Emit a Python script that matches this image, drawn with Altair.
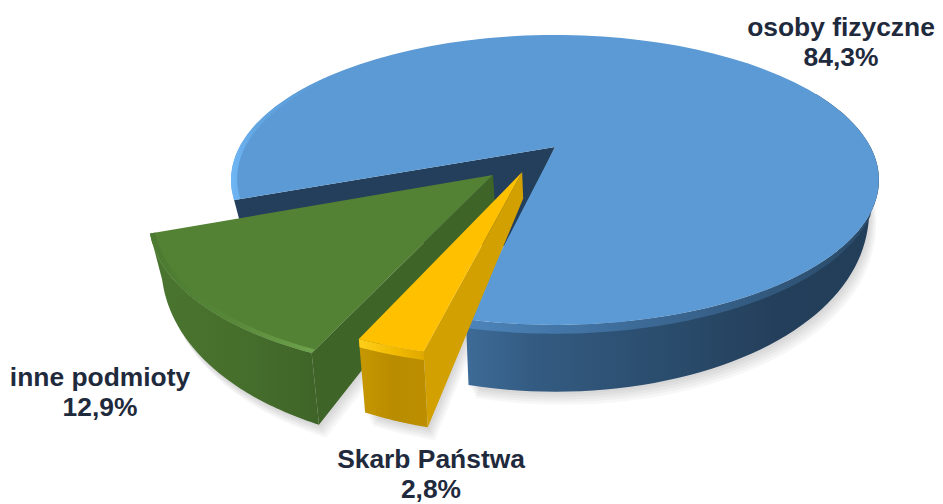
import math
import altair as alt
import pandas as pd

# ---- chart values ----
categories = ["osoby fizyczne", "inne podmioty", "Skarb Państwa"]
shares = [84.3, 12.9, 2.8]
blue_end_angle = 102.7
label_x = [841, 100, 431]
label_y = [28, 378, 460]
value_y = [58, 408, 490]

# ---- view model of the tilted pie ----
CX, CY, A, B, K = 555, 147, 315.5, 137.5, 0.2276
SHRINK = 0.97
XD, YD = [8, 935], [504, 8]


def pt(c, s, z=0):
    d = 1 - K * s
    x = CX + A * c / d
    y = CY + B * s / d
    if z:
        dy = max(y - CY, 0)
        x = CX + (x - CX) * (1 - (1 - SHRINK) * z)
        y = y + z * 5 * math.sqrt(dy)
    return x, y


def arc(t0, t1, r=1.0, off=(0, 0), z=0, n=70):
    out = []
    for i in range(n + 1):
        t = math.radians(t0 + (t1 - t0) * i / n)
        out.append(pt(off[0] + r * math.cos(t), off[1] + r * math.sin(t), z))
    return out


def face(points, fill, opacity=1.0):
    df = pd.DataFrame({"x": [p[0] for p in points], "y": [p[1] for p in points],
                       "i": list(range(len(points)))})
    return alt.Chart(df).mark_line(
        fill=fill, strokeWidth=0, interpolate="linear-closed", opacity=opacity
    ).encode(
        x=alt.X("x:Q", scale=alt.Scale(domain=XD), axis=None),
        y=alt.Y("y:Q", scale=alt.Scale(domain=YD), axis=None),
        order=alt.Order("i:Q"),
    )


def grad(*stops):
    return alt.Gradient(
        gradient="linear", x1=0, x2=1, y1=0, y2=0,
        stops=[alt.GradientStop(offset=o, color=c) for o, c in stops],
    )


def shift(points, dx, dy):
    return [(x + dx, y + dy) for x, y in points]


def band(z0, z1, t0, t1, r, off):
    return arc(t0, t1, r, off, z0) + arc(t1, t0, r, off, z1)


def ray(t, r, off, z0, z1):
    c, s = off[0] + r * math.cos(math.radians(t)), off[1] + r * math.sin(math.radians(t))
    return [pt(*off, z0), pt(c, s, z0), pt(c, s, z1), pt(*off, z1)]


sweep = [s * 3.6 for s in shares]
b0 = blue_end_angle
b_start = b0 - sweep[0]
y_end = b0 + sweep[2]
g_end = y_end + sweep[1]

G_OFF = (-0.188, 0.195)
Y_OFF = (-0.1, 0.1746)
Y_R = 0.96
Y_Z = 1.06
O = (0, 0)

layers = []

# soft shadows
blue_bot = arc(-25, b0, 1, O, 1) + [pt(0, 0)]
green_bot = arc(y_end, g_end, 1, G_OFF, 1) + [pt(*G_OFF, 1)]
yellow_bot = arc(b0, y_end, Y_R, Y_OFF, Y_Z) + [pt(*Y_OFF, 1)]
for outline in (blue_bot, green_bot, yellow_bot):
    for k in range(1, 6):
        layers.append(face(shift(outline, 1.4 * k, 2.6 * k), "#000000", 0.03))

# blue slice
layers.append(face(band(0, 1, -25, b0, 1, O),
                   grad((0, "#3d6b97"), (0.18, "#335a80"), (0.5, "#2a4c6c"),
                        (0.75, "#243f5b"), (1, "#233e58"))))
layers.append(face(band(0, 0.13, 25, b0, 1, O),
                   grad((0, "#4c84ba"), (0.35, "#3f6f9e"), (1, "#2a4a68"))))
# inner wall seen through the gap left by the pulled-out slices
rim = math.radians(g_end)
inner = [pt(0, 0), pt(math.cos(rim), math.sin(rim)), pt(math.cos(rim), math.sin(rim), 1),
         pt(-0.13, 0.62)]
layers.append(face(inner, "#243f5b"))
layers.append(face(arc(b_start, b0) + [pt(0, 0)], "#5b9ad5"))
layers.append(face(arc(g_end, g_end + 55) + arc(g_end + 55, g_end, 0.982),
                   grad((0, "#6fb6f5"), (0.25, "#62a6e2"), (1, "#5b9ad5"))))

# green slice
layers.append(face(band(0, 1, y_end, g_end, 1, G_OFF),
                   grad((0, "#4a7530"), (0.5, "#466f2c"), (1, "#3f6428"))))
layers.append(face(ray(y_end, 1, G_OFF, 0, 1), "#3f6428"))
layers.append(face(arc(y_end, g_end, 1, G_OFF) + [pt(*G_OFF)], "#548235"))
layers.append(face(arc(g_end, y_end, 1, G_OFF) + arc(y_end, g_end, 0.985, G_OFF),
                   grad((0, "#4b7a30"), (0.5, "#578839"), (1, "#6fa34c"))))

# yellow slice
layers.append(face(band(0, Y_Z, b0, y_end, Y_R, Y_OFF),
                   grad((0, "#c79800"), (0.5, "#b98c00"), (1, "#bc8e00"))))
layers.append(face(ray(b0, Y_R, Y_OFF, 0, Y_Z), "#d2a000"))
layers.append(face(arc(b0, y_end, Y_R, Y_OFF) + [pt(*Y_OFF)], "#ffc000"))
layers.append(face(band(0, 0.12, b0, y_end, Y_R, Y_OFF),
                   grad((0, "#ffcf1a"), (0.6, "#f0b800"), (1, "#dfa900"))))

# labels
rows = []
for name, share, lx, ly, vy in zip(categories, shares, label_x, label_y, value_y):
    rows.append({"x": lx, "y": ly, "t": name})
    rows.append({"x": lx, "y": vy, "t": f"{share:.1f}%".replace(".", ",")})
labels = alt.Chart(pd.DataFrame(rows)).mark_text(
    font="Liberation Sans", fontWeight="bold", fontSize=26.4, color="#1f2a3d",
    align="center", baseline="middle",
).encode(
    x=alt.X("x:Q", scale=alt.Scale(domain=XD), axis=None),
    y=alt.Y("y:Q", scale=alt.Scale(domain=YD), axis=None),
    text="t:N",
)
layers.append(labels)

chart = alt.layer(*layers).properties(
    width=927, height=496, padding=0, autosize=alt.AutoSizeParams(type="none"),
).configure_view(stroke=None)

chart.save("out.html", embed_options={"renderer": "svg", "actions": False})
